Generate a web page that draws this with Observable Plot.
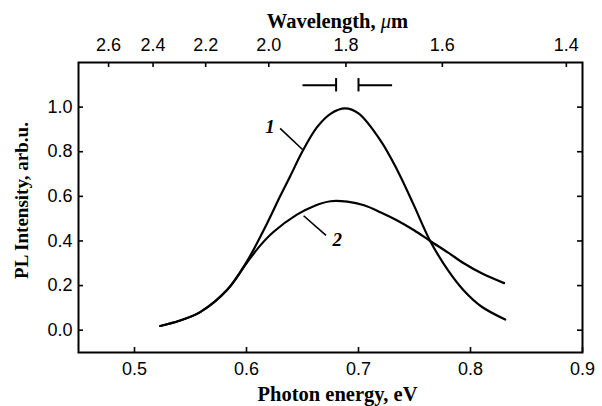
<!DOCTYPE html>
<html><head><meta charset="utf-8">
<script src="https://cdn.jsdelivr.net/npm/d3@7"></script>
<script src="https://cdn.jsdelivr.net/npm/@observablehq/plot@0.6"></script>
<style>
html,body{margin:0;padding:0;background:#fff;}
</style>
</head><body><div id="chart"></div>
<script>
// Curve 1 (photon energy, eV ; PL intensity, arb.u.)
const energy1 =    [0.523, 0.540, 0.559, 0.583, 0.600, 0.618, 0.630, 0.639, 0.650, 0.663, 0.675, 0.688, 0.700, 0.720, 0.735, 0.749, 0.764, 0.780, 0.794, 0.810, 0.831];
const intensity1 = [0.019, 0.042, 0.082, 0.182, 0.305, 0.475, 0.600, 0.690, 0.802, 0.910, 0.970, 0.994, 0.972, 0.848, 0.714, 0.565, 0.400, 0.268, 0.178, 0.105, 0.048];
// Curve 2
const energy2 =    [0.523, 0.540, 0.559, 0.583, 0.600, 0.612, 0.624, 0.645, 0.660, 0.675, 0.690, 0.705, 0.720, 0.735, 0.750, 0.764, 0.780, 0.794, 0.810, 0.830];
const intensity2 = [0.019, 0.042, 0.082, 0.182, 0.300, 0.378, 0.440, 0.518, 0.556, 0.578, 0.576, 0.560, 0.528, 0.491, 0.447, 0.400, 0.348, 0.300, 0.255, 0.211];

// Axis ticks
const xTicks = [0.5, 0.6, 0.7, 0.8, 0.9];
const yTicks = [0.0, 0.2, 0.4, 0.6, 0.8, 1.0];
const wavelengthTicks = [2.6, 2.4, 2.2, 2.0, 1.8, 1.6, 1.4];
const hc = 1.2398; // eV·µm

// Curve number labels and leader lines
const curveNames = ["1", "2"];
const curveNameE = [0.621, 0.681];
const curveNameI = [0.912, 0.405];
const leaderE1 = [0.630, 0.651];
const leaderI1 = [0.905, 0.513];
const leaderE2 = [0.650, 0.671];
const leaderI2 = [0.810, 0.425];

// Resolution bracket markers
const bracketY = 1.098;
const bracketOuterE = [0.650, 0.730];
const bracketCapE = [0.680, 0.700];
const bracketCapLow = 1.068;
const bracketCapHigh = 1.128;

const curve1 = energy1.map((e, i) => ({e, v: intensity1[i]}));
const curve2 = energy2.map((e, i) => ({e, v: intensity2[i]}));
const wlE = wavelengthTicks.map(w => hc / w);
const nameData = curveNames.map((t, i) => ({t, e: curveNameE[i], v: curveNameI[i]}));
const leaders = leaderE1.map((e, i) => ({x1: e, y1: leaderI1[i], x2: leaderE2[i], y2: leaderI2[i]}));
const brackets = bracketOuterE.map((e, i) => ({x1: e, x2: bracketCapE[i], y: bracketY}));

const W = 602, H = 406, mL = 78, mR = 20, mT = 62, mB = 54;
const fw = W - mL - mR, fh = H - mT - mB, tick = 5;
const serif = "'Liberation Serif', 'Times New Roman', serif";
const sans = "'Liberation Sans', Arial, sans-serif";
const tickFont = {fontFamily: sans, fontSize: 18};

const chart = Plot.plot({
  width: W, height: H,
  marginLeft: mL, marginRight: mR, marginTop: mT, marginBottom: mB,
  style: {fontFamily: sans, fontSize: "18px", background: "#fff", color: "#000"},
  x: {domain: [0.45, 0.9]},
  y: {domain: [-0.1, 1.2]},
  marks: [
    Plot.frame({stroke: "#000", strokeWidth: 2}),
    // inward ticks
    Plot.tickX(xTicks, {x: d => d, insetTop: fh - tick, stroke: "#000", strokeWidth: 1.6}),
    Plot.tickX(wlE, {x: d => d, insetBottom: fh - tick, stroke: "#000", strokeWidth: 1.6}),
    Plot.tickY(yTicks, {y: d => d, insetRight: fw - tick, stroke: "#000", strokeWidth: 1.6}),
    Plot.tickY(yTicks, {y: d => d, insetLeft: fw - tick, stroke: "#000", strokeWidth: 1.6}),
    // tick labels
    Plot.axisX({ticks: xTicks, tickSize: 0, tickPadding: 10, tickFormat: d3.format(".1f"), label: null, ...tickFont}),
    Plot.axisX(wlE, {anchor: "top", tickSize: 0, tickPadding: 12, tickFormat: d => (hc / d).toFixed(1), label: null, ...tickFont}),
    Plot.axisY({ticks: yTicks, tickSize: 0, tickPadding: 6, tickFormat: d3.format(".1f"), label: null, ...tickFont}),
    // axis titles
    Plot.text(["Photon energy, eV"], {frameAnchor: "bottom", dy: 48, dx: 7, lineAnchor: "bottom", fontFamily: serif, fontWeight: "bold", fontSize: 20.5}),
    Plot.text(["Wavelength, μm"], {frameAnchor: "top", dy: -35, dx: 7, lineAnchor: "bottom", fontFamily: serif, fontWeight: "bold", fontSize: 20.5}),
    Plot.text(["PL Intensity, arb.u."], {frameAnchor: "left", textAnchor: "middle", dx: -57, dy: -7, rotate: -90, lineAnchor: "middle", fontFamily: serif, fontWeight: "bold", fontSize: 19}),
    // curves
    Plot.line(curve1, {x: "e", y: "v", curve: "catmull-rom", stroke: "#000", strokeWidth: 2.2}),
    Plot.line(curve2, {x: "e", y: "v", curve: "catmull-rom", stroke: "#000", strokeWidth: 2.2}),
    // leaders and labels
    Plot.link(leaders, {x1: "x1", y1: "y1", x2: "x2", y2: "y2", stroke: "#000", strokeWidth: 1.6}),
    Plot.text(nameData, {x: "e", y: "v", text: "t", fontFamily: serif, fontWeight: "bold", fontStyle: "italic", fontSize: 19}),
    // resolution brackets
    Plot.link(brackets, {x1: "x1", x2: "x2", y1: "y", y2: "y", stroke: "#000", strokeWidth: 2}),
    Plot.ruleX(bracketCapE, {x: d => d, y1: bracketCapLow, y2: bracketCapHigh, stroke: "#000", strokeWidth: 2})
  ]
});
document.getElementById("chart").appendChild(chart);

// italic µ in the wavelength title
d3.select(chart).selectAll("text").each(function() {
  if (this.textContent === "Wavelength, μm") {
    const t = d3.select(this);
    t.text(null);
    t.append("tspan").text("Wavelength, ");
    t.append("tspan").attr("font-style", "italic").attr("font-weight", "normal").text("μ");
    t.append("tspan").text("m");
  }
});
</script>
</body></html>
